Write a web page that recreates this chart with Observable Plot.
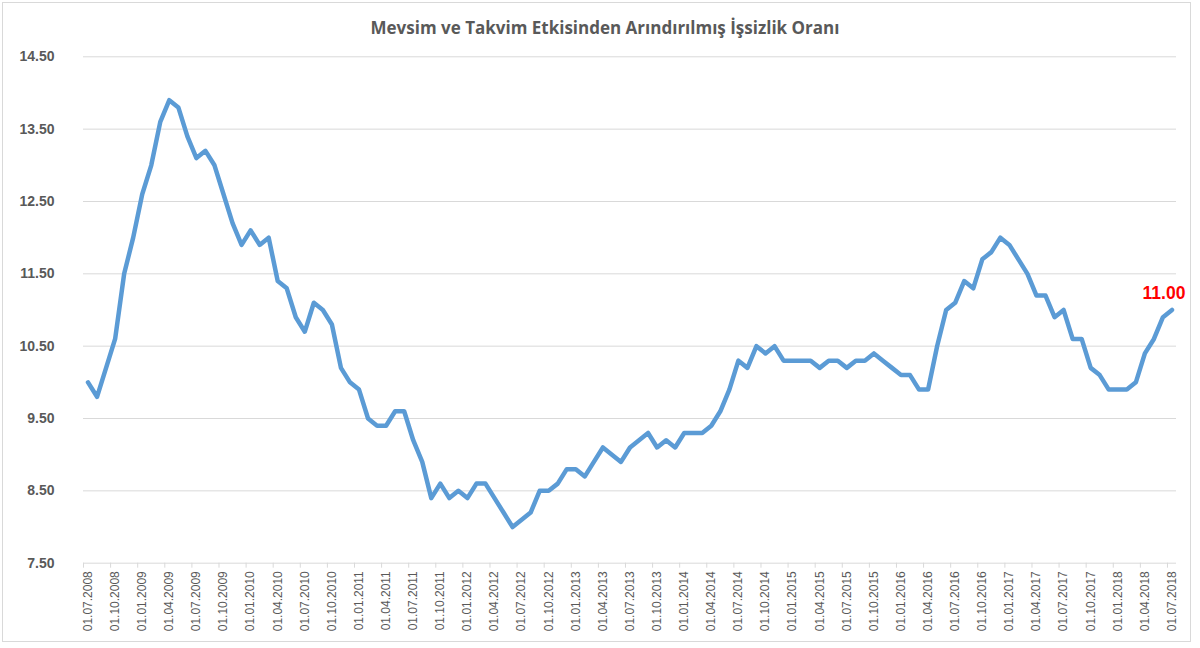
<!DOCTYPE html>
<html>
<head>
<meta charset="utf-8">
<script src="https://cdn.jsdelivr.net/npm/d3@7"></script>
<script src="https://cdn.jsdelivr.net/npm/@observablehq/plot@0.6"></script>
<style>
  html, body { margin: 0; padding: 0; background: #ffffff; }
  #wrap { position: relative; width: 1200px; height: 648px; overflow: hidden; }
  #border { position: absolute; left: 2px; top: 2px; width: 1187px; height: 638px; border: 1px solid #d9d9d9; }
  #title { position: absolute; left: 5px; top: 19px; width: 1200px; text-align: center;
           font-family: "Open Sans", Lato, sans-serif; font-weight: bold; font-size: 17px; line-height: 17px; color: #595959; }
  #chart { position: absolute; left: 0; top: 0; }
</style>
</head>
<body>
<div id="wrap">
  <div id="border"></div>
  <div id="chart"></div>
  <div id="title">Mevsim ve Takvim Etkisinden Arındırılmış İşsizlik Oranı</div>
</div>
<script>
// Monthly values, 07.2008 ... 07.2018 (121 months)
const values = [
  10.0, 9.8, 10.2, 10.6, 11.5, 12.0, 12.6, 13.0, 13.6, 13.9, 13.8, 13.4,
  13.1, 13.2, 13.0, 12.6, 12.2, 11.9, 12.1, 11.9, 12.0, 11.4, 11.3, 10.9,
  10.7, 11.1, 11.0, 10.8, 10.2, 10.0, 9.9, 9.5, 9.4, 9.4, 9.6, 9.6,
  9.2, 8.9, 8.4, 8.6, 8.4, 8.5, 8.4, 8.6, 8.6, 8.4, 8.2, 8.0,
  8.1, 8.2, 8.5, 8.5, 8.6, 8.8, 8.8, 8.7, 8.9, 9.1, 9.0, 8.9,
  9.1, 9.2, 9.3, 9.1, 9.2, 9.1, 9.3, 9.3, 9.3, 9.4, 9.6, 9.9,
  10.3, 10.2, 10.5, 10.4, 10.5, 10.3, 10.3, 10.3, 10.3, 10.2, 10.3, 10.3,
  10.2, 10.3, 10.3, 10.4, 10.3, 10.2, 10.1, 10.1, 9.9, 9.9, 10.5, 11.0,
  11.1, 11.4, 11.3, 11.7, 11.8, 12.0, 11.9, 11.7, 11.5, 11.2, 11.2, 10.9,
  11.0, 10.6, 10.6, 10.2, 10.1, 9.9, 9.9, 9.9, 10.0, 10.4, 10.6, 10.9, 11.0
];

// Quarterly category labels (every 3rd month)
const tickLabels = [
  "01.07.2008", "01.10.2008", "01.01.2009", "01.04.2009", "01.07.2009", "01.10.2009",
  "01.01.2010", "01.04.2010", "01.07.2010", "01.10.2010", "01.01.2011", "01.04.2011",
  "01.07.2011", "01.10.2011", "01.01.2012", "01.04.2012", "01.07.2012", "01.10.2012",
  "01.01.2013", "01.04.2013", "01.07.2013", "01.10.2013", "01.01.2014", "01.04.2014",
  "01.07.2014", "01.10.2014", "01.01.2015", "01.04.2015", "01.07.2015", "01.10.2015",
  "01.01.2016", "01.04.2016", "01.07.2016", "01.10.2016", "01.01.2017", "01.04.2017",
  "01.07.2017", "01.10.2017", "01.01.2018", "01.04.2018", "01.07.2018"
];

// Y axis tick values
const yTicks = [7.5, 8.5, 9.5, 10.5, 11.5, 12.5, 13.5, 14.5];

const data = values.map((v, i) => ({i, v}));
const labelPos = tickLabels.map((_, k) => k * 3);
const boundaries = tickLabels.map((_, k) => k * 3 - 0.5);
const last = data[data.length - 1];

const chart = Plot.plot({
  width: 1200,
  height: 648,
  marginLeft: 83,
  marginRight: 24,
  marginTop: 56.3,
  marginBottom: 85.3,
  x: {domain: [-0.5, values.length - 0.5], axis: null},
  y: {domain: [7.5, 14.5], axis: null},
  style: {fontFamily: "'Liberation Sans', Arial, sans-serif", background: "transparent", overflow: "visible"},
  marks: [
    Plot.ruleY(yTicks, {stroke: "#d9d9d9", strokeWidth: 1, strokeOpacity: 1}),
    Plot.axisY({ticks: yTicks, tickSize: 0, tickPadding: 29, tickFormat: d => d.toFixed(2),
      fontSize: 14, fontWeight: "bold", fill: "#595959", label: null}),
    Plot.axisX({ticks: boundaries, tickSize: 5, stroke: "#d9d9d9", strokeOpacity: 1, tickFormat: () => "", label: null}),
    Plot.axisX({ticks: labelPos, tickSize: 0, tickRotate: -90, tickPadding: 8,
      tickFormat: i => tickLabels[i / 3], fontSize: 12, fill: "#595959", label: null}),
    Plot.line(data, {x: "i", y: "v", stroke: "#5B9BD5", strokeWidth: 4.5,
      strokeLinejoin: "round", strokeLinecap: "round"}),
    Plot.text([last], {x: "i", y: "v", text: d => d.v.toFixed(2), dx: -8, dy: -17,
      fill: "#FF0000", fontSize: 17.5, fontWeight: "bold"})
  ]
});
document.getElementById("chart").appendChild(chart);
</script>
</body>
</html>
